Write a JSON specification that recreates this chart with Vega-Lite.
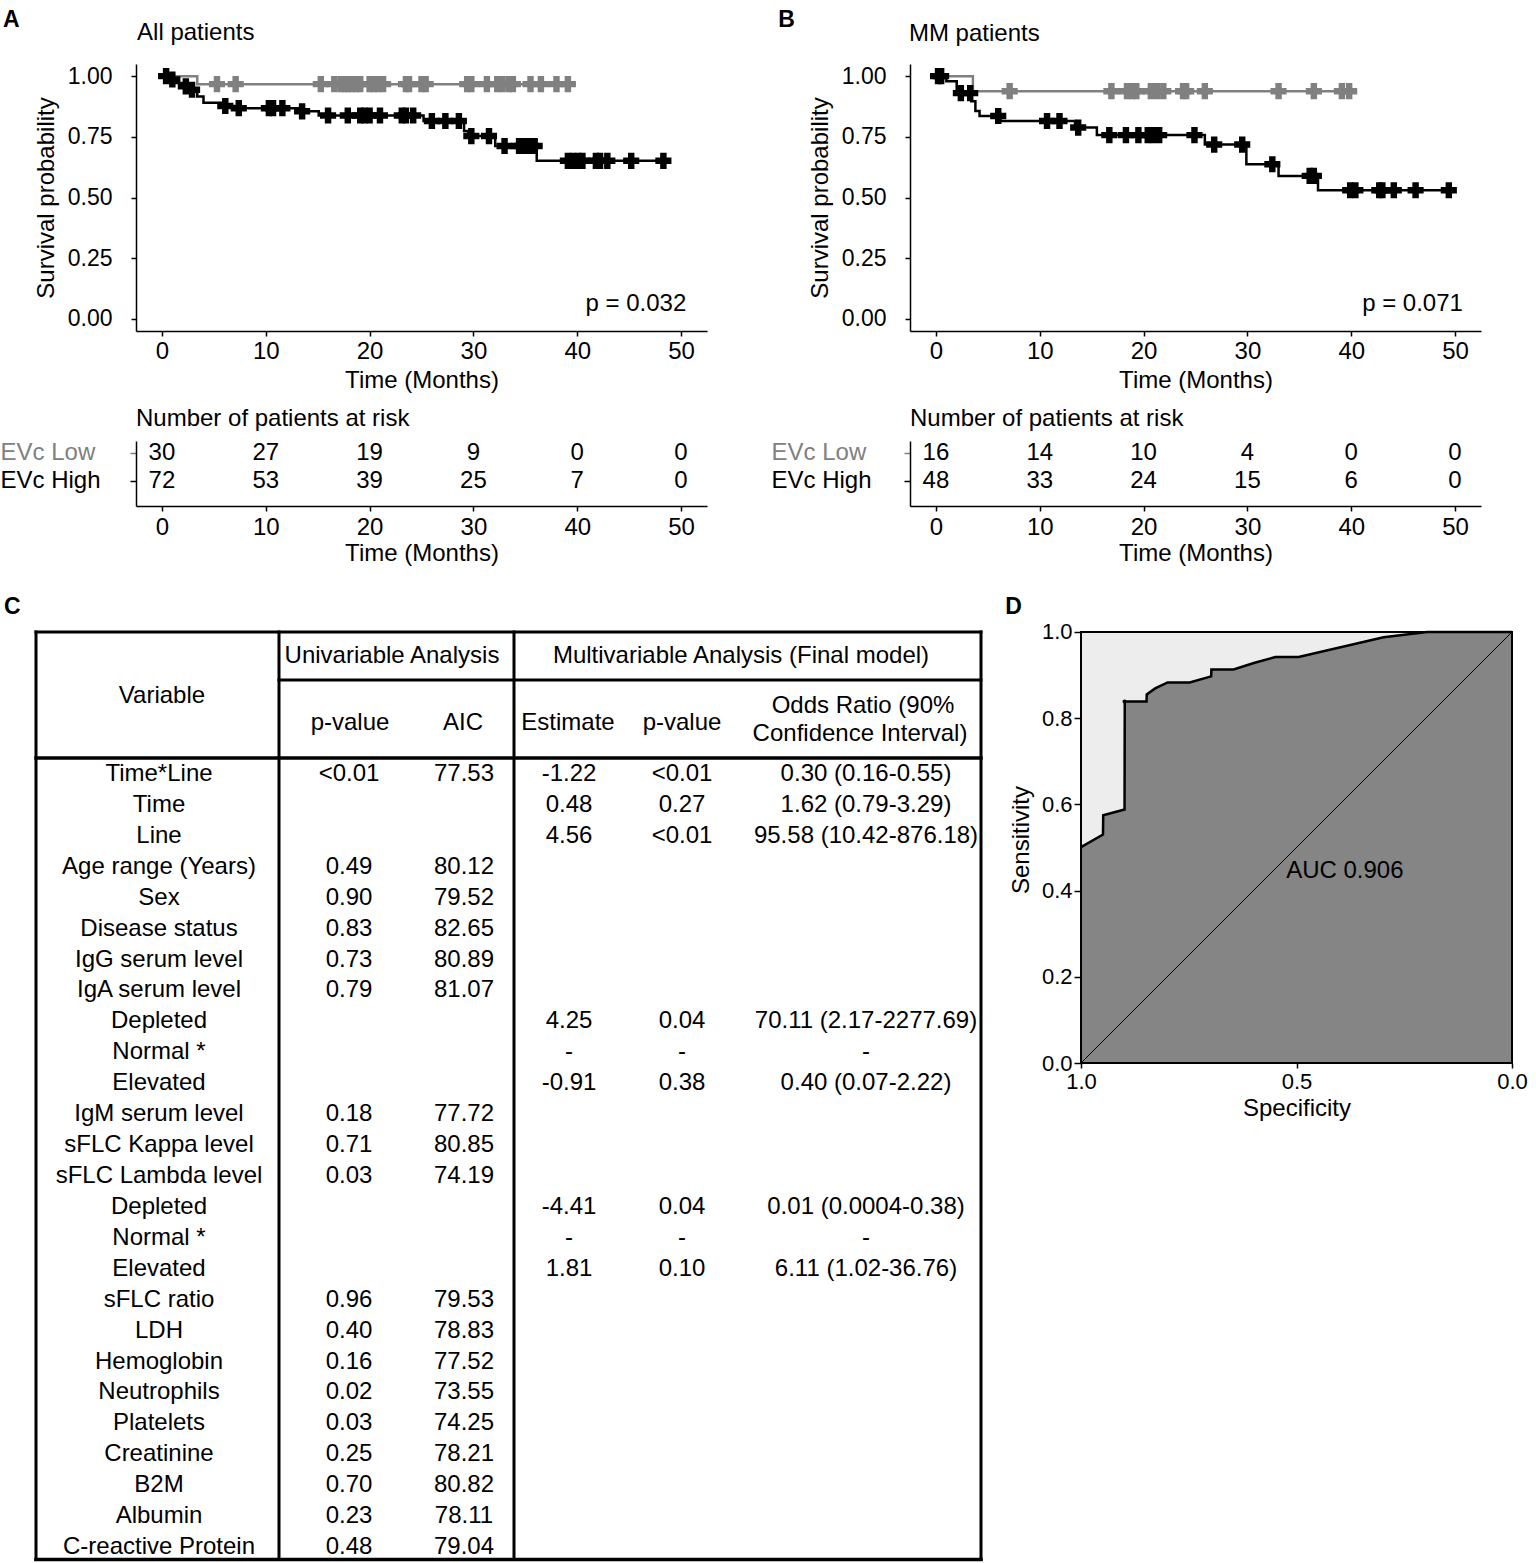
{
  "$schema": "https://vega.github.io/schema/vega-lite/v6.json",
  "padding": {"left": 0, "top": 8, "right": 0, "bottom": 0},
  "config": {
    "font": "Liberation Sans",
    "view": {"stroke": null},
    "axis": {"grid": false, "labelFontSize": 22, "titleFontSize": 24, "titleFontWeight": "normal", "labelColor": "#000000", "titleColor": "#000000", "domainColor": "#000000", "tickColor": "#000000", "domainWidth": 1.5, "tickWidth": 1.5, "labelFlush": false},
    "text": {"fontSize": 24, "color": "#000000"}
  },
  "datasets": {
    "kmA_curve": [
      {"group": "EVc Low", "time": 0, "surv": 1},
      {"group": "EVc Low", "time": 3.4, "surv": 0.967},
      {"group": "EVc Low", "time": 39.3, "surv": 0.967},
      {"group": "EVc High", "time": 0, "surv": 1},
      {"group": "EVc High", "time": 0.5, "surv": 0.986},
      {"group": "EVc High", "time": 1.2, "surv": 0.972},
      {"group": "EVc High", "time": 2.1, "surv": 0.958},
      {"group": "EVc High", "time": 2.9, "surv": 0.944},
      {"group": "EVc High", "time": 3.4, "surv": 0.916},
      {"group": "EVc High", "time": 4.0, "surv": 0.89},
      {"group": "EVc High", "time": 6.0, "surv": 0.877},
      {"group": "EVc High", "time": 7.3, "surv": 0.868},
      {"group": "EVc High", "time": 13.2, "surv": 0.855},
      {"group": "EVc High", "time": 15.1, "surv": 0.838},
      {"group": "EVc High", "time": 25.2, "surv": 0.815},
      {"group": "EVc High", "time": 29.1, "surv": 0.774},
      {"group": "EVc High", "time": 29.5, "surv": 0.753},
      {"group": "EVc High", "time": 32.1, "surv": 0.712},
      {"group": "EVc High", "time": 36.1, "surv": 0.651},
      {"group": "EVc High", "time": 48.3, "surv": 0.651}
    ],
    "kmA_censor": [
      {"group": "EVc Low", "time": 5.3, "surv": 0.967},
      {"group": "EVc Low", "time": 7.1, "surv": 0.967},
      {"group": "EVc Low", "time": 15.3, "surv": 0.967},
      {"group": "EVc Low", "time": 16.6, "surv": 0.967},
      {"group": "EVc Low", "time": 17.2, "surv": 0.967},
      {"group": "EVc Low", "time": 17.6, "surv": 0.967},
      {"group": "EVc Low", "time": 17.9, "surv": 0.967},
      {"group": "EVc Low", "time": 18.3, "surv": 0.967},
      {"group": "EVc Low", "time": 18.7, "surv": 0.967},
      {"group": "EVc Low", "time": 19.1, "surv": 0.967},
      {"group": "EVc Low", "time": 20.0, "surv": 0.967},
      {"group": "EVc Low", "time": 20.4, "surv": 0.967},
      {"group": "EVc Low", "time": 20.8, "surv": 0.967},
      {"group": "EVc Low", "time": 21.3, "surv": 0.967},
      {"group": "EVc Low", "time": 23.5, "surv": 0.967},
      {"group": "EVc Low", "time": 23.8, "surv": 0.967},
      {"group": "EVc Low", "time": 25.0, "surv": 0.967},
      {"group": "EVc Low", "time": 25.4, "surv": 0.967},
      {"group": "EVc Low", "time": 29.4, "surv": 0.967},
      {"group": "EVc Low", "time": 29.8, "surv": 0.967},
      {"group": "EVc Low", "time": 31.3, "surv": 0.967},
      {"group": "EVc Low", "time": 32.3, "surv": 0.967},
      {"group": "EVc Low", "time": 32.8, "surv": 0.967},
      {"group": "EVc Low", "time": 33.4, "surv": 0.967},
      {"group": "EVc Low", "time": 33.8, "surv": 0.967},
      {"group": "EVc Low", "time": 35.5, "surv": 0.967},
      {"group": "EVc Low", "time": 36.5, "surv": 0.967},
      {"group": "EVc Low", "time": 38.0, "surv": 0.967},
      {"group": "EVc Low", "time": 39.1, "surv": 0.967},
      {"group": "EVc High", "time": 0.4, "surv": 1},
      {"group": "EVc High", "time": 1.0, "surv": 0.986},
      {"group": "EVc High", "time": 2.3, "surv": 0.958},
      {"group": "EVc High", "time": 2.9, "surv": 0.944},
      {"group": "EVc High", "time": 6.1, "surv": 0.877},
      {"group": "EVc High", "time": 7.4, "surv": 0.868},
      {"group": "EVc High", "time": 10.3, "surv": 0.868},
      {"group": "EVc High", "time": 10.7, "surv": 0.868},
      {"group": "EVc High", "time": 11.6, "surv": 0.868},
      {"group": "EVc High", "time": 13.5, "surv": 0.855},
      {"group": "EVc High", "time": 16.0, "surv": 0.838},
      {"group": "EVc High", "time": 17.9, "surv": 0.838},
      {"group": "EVc High", "time": 19.1, "surv": 0.838},
      {"group": "EVc High", "time": 19.5, "surv": 0.838},
      {"group": "EVc High", "time": 20.0, "surv": 0.838},
      {"group": "EVc High", "time": 21.0, "surv": 0.838},
      {"group": "EVc High", "time": 23.1, "surv": 0.838},
      {"group": "EVc High", "time": 23.5, "surv": 0.838},
      {"group": "EVc High", "time": 24.2, "surv": 0.838},
      {"group": "EVc High", "time": 26.0, "surv": 0.815},
      {"group": "EVc High", "time": 27.3, "surv": 0.815},
      {"group": "EVc High", "time": 28.6, "surv": 0.815},
      {"group": "EVc High", "time": 29.8, "surv": 0.753},
      {"group": "EVc High", "time": 31.5, "surv": 0.753},
      {"group": "EVc High", "time": 33.0, "surv": 0.712},
      {"group": "EVc High", "time": 34.4, "surv": 0.712},
      {"group": "EVc High", "time": 34.7, "surv": 0.712},
      {"group": "EVc High", "time": 35.1, "surv": 0.712},
      {"group": "EVc High", "time": 35.5, "surv": 0.712},
      {"group": "EVc High", "time": 35.9, "surv": 0.712},
      {"group": "EVc High", "time": 39.1, "surv": 0.651},
      {"group": "EVc High", "time": 39.6, "surv": 0.651},
      {"group": "EVc High", "time": 40.1, "surv": 0.651},
      {"group": "EVc High", "time": 40.5, "surv": 0.651},
      {"group": "EVc High", "time": 41.8, "surv": 0.651},
      {"group": "EVc High", "time": 42.2, "surv": 0.651},
      {"group": "EVc High", "time": 42.9, "surv": 0.651},
      {"group": "EVc High", "time": 45.2, "surv": 0.651},
      {"group": "EVc High", "time": 48.3, "surv": 0.651}
    ],
    "kmB_curve": [
      {"group": "EVc Low", "time": 0, "surv": 1},
      {"group": "EVc Low", "time": 3.56, "surv": 0.938},
      {"group": "EVc Low", "time": 39.8, "surv": 0.938},
      {"group": "EVc High", "time": 0, "surv": 1},
      {"group": "EVc High", "time": 1.0, "surv": 0.979},
      {"group": "EVc High", "time": 2.0, "surv": 0.93},
      {"group": "EVc High", "time": 3.4, "surv": 0.897},
      {"group": "EVc High", "time": 3.8, "surv": 0.856},
      {"group": "EVc High", "time": 4.2, "surv": 0.836},
      {"group": "EVc High", "time": 6.2, "surv": 0.815},
      {"group": "EVc High", "time": 13.4, "surv": 0.788},
      {"group": "EVc High", "time": 15.5, "surv": 0.757},
      {"group": "EVc High", "time": 25.9, "surv": 0.718},
      {"group": "EVc High", "time": 29.9, "surv": 0.637},
      {"group": "EVc High", "time": 33.0, "surv": 0.589},
      {"group": "EVc High", "time": 36.8, "surv": 0.53},
      {"group": "EVc High", "time": 49.4, "surv": 0.53}
    ],
    "kmB_censor": [
      {"group": "EVc Low", "time": 7.1, "surv": 0.938},
      {"group": "EVc Low", "time": 16.9, "surv": 0.938},
      {"group": "EVc Low", "time": 18.4, "surv": 0.938},
      {"group": "EVc Low", "time": 18.9, "surv": 0.938},
      {"group": "EVc Low", "time": 19.3, "surv": 0.938},
      {"group": "EVc Low", "time": 20.7, "surv": 0.938},
      {"group": "EVc Low", "time": 21.3, "surv": 0.938},
      {"group": "EVc Low", "time": 21.9, "surv": 0.938},
      {"group": "EVc Low", "time": 23.8, "surv": 0.938},
      {"group": "EVc Low", "time": 24.1, "surv": 0.938},
      {"group": "EVc Low", "time": 25.9, "surv": 0.938},
      {"group": "EVc Low", "time": 33.0, "surv": 0.938},
      {"group": "EVc Low", "time": 36.4, "surv": 0.938},
      {"group": "EVc Low", "time": 39.1, "surv": 0.938},
      {"group": "EVc Low", "time": 39.8, "surv": 0.938},
      {"group": "EVc High", "time": 0.2, "surv": 1},
      {"group": "EVc High", "time": 0.5, "surv": 1},
      {"group": "EVc High", "time": 2.4, "surv": 0.93},
      {"group": "EVc High", "time": 3.3, "surv": 0.93},
      {"group": "EVc High", "time": 6.0, "surv": 0.836},
      {"group": "EVc High", "time": 10.7, "surv": 0.815},
      {"group": "EVc High", "time": 11.9, "surv": 0.815},
      {"group": "EVc High", "time": 13.7, "surv": 0.788},
      {"group": "EVc High", "time": 16.7, "surv": 0.757},
      {"group": "EVc High", "time": 18.3, "surv": 0.757},
      {"group": "EVc High", "time": 19.5, "surv": 0.757},
      {"group": "EVc High", "time": 20.4, "surv": 0.757},
      {"group": "EVc High", "time": 20.9, "surv": 0.757},
      {"group": "EVc High", "time": 21.5, "surv": 0.757},
      {"group": "EVc High", "time": 24.9, "surv": 0.757},
      {"group": "EVc High", "time": 26.8, "surv": 0.718},
      {"group": "EVc High", "time": 29.5, "surv": 0.718},
      {"group": "EVc High", "time": 32.4, "surv": 0.637},
      {"group": "EVc High", "time": 36.0, "surv": 0.589},
      {"group": "EVc High", "time": 36.4, "surv": 0.589},
      {"group": "EVc High", "time": 39.9, "surv": 0.53},
      {"group": "EVc High", "time": 40.4, "surv": 0.53},
      {"group": "EVc High", "time": 42.7, "surv": 0.53},
      {"group": "EVc High", "time": 43.0, "surv": 0.53},
      {"group": "EVc High", "time": 44.1, "surv": 0.53},
      {"group": "EVc High", "time": 46.2, "surv": 0.53},
      {"group": "EVc High", "time": 49.4, "surv": 0.53}
    ],
    "riskA": [
      {"group": "EVc Low", "time": 0, "n": 30},
      {"group": "EVc Low", "time": 10, "n": 27},
      {"group": "EVc Low", "time": 20, "n": 19},
      {"group": "EVc Low", "time": 30, "n": 9},
      {"group": "EVc Low", "time": 40, "n": 0},
      {"group": "EVc Low", "time": 50, "n": 0},
      {"group": "EVc High", "time": 0, "n": 72},
      {"group": "EVc High", "time": 10, "n": 53},
      {"group": "EVc High", "time": 20, "n": 39},
      {"group": "EVc High", "time": 30, "n": 25},
      {"group": "EVc High", "time": 40, "n": 7},
      {"group": "EVc High", "time": 50, "n": 0}
    ],
    "riskB": [
      {"group": "EVc Low", "time": 0, "n": 16},
      {"group": "EVc Low", "time": 10, "n": 14},
      {"group": "EVc Low", "time": 20, "n": 10},
      {"group": "EVc Low", "time": 30, "n": 4},
      {"group": "EVc Low", "time": 40, "n": 0},
      {"group": "EVc Low", "time": 50, "n": 0},
      {"group": "EVc High", "time": 0, "n": 48},
      {"group": "EVc High", "time": 10, "n": 33},
      {"group": "EVc High", "time": 20, "n": 24},
      {"group": "EVc High", "time": 30, "n": 15},
      {"group": "EVc High", "time": 40, "n": 6},
      {"group": "EVc High", "time": 50, "n": 0}
    ],
    "tableC": [
      {"row": 1, "variable": "Time*Line", "uniP": "<0.01", "aic": "77.53", "est": "-1.22", "multP": "<0.01", "or": "0.30 (0.16-0.55)"},
      {"row": 2, "variable": "Time", "uniP": "", "aic": "", "est": "0.48", "multP": "0.27", "or": "1.62 (0.79-3.29)"},
      {"row": 3, "variable": "Line", "uniP": "", "aic": "", "est": "4.56", "multP": "<0.01", "or": "95.58 (10.42-876.18)"},
      {"row": 4, "variable": "Age range (Years)", "uniP": "0.49", "aic": "80.12", "est": "", "multP": "", "or": ""},
      {"row": 5, "variable": "Sex", "uniP": "0.90", "aic": "79.52", "est": "", "multP": "", "or": ""},
      {"row": 6, "variable": "Disease status", "uniP": "0.83", "aic": "82.65", "est": "", "multP": "", "or": ""},
      {"row": 7, "variable": "IgG serum level", "uniP": "0.73", "aic": "80.89", "est": "", "multP": "", "or": ""},
      {"row": 8, "variable": "IgA serum level", "uniP": "0.79", "aic": "81.07", "est": "", "multP": "", "or": ""},
      {"row": 9, "variable": "Depleted", "uniP": "", "aic": "", "est": "4.25", "multP": "0.04", "or": "70.11 (2.17-2277.69)"},
      {"row": 10, "variable": "Normal *", "uniP": "", "aic": "", "est": "-", "multP": "-", "or": "-"},
      {"row": 11, "variable": "Elevated", "uniP": "", "aic": "", "est": "-0.91", "multP": "0.38", "or": "0.40 (0.07-2.22)"},
      {"row": 12, "variable": "IgM serum level", "uniP": "0.18", "aic": "77.72", "est": "", "multP": "", "or": ""},
      {"row": 13, "variable": "sFLC Kappa level", "uniP": "0.71", "aic": "80.85", "est": "", "multP": "", "or": ""},
      {"row": 14, "variable": "sFLC Lambda level", "uniP": "0.03", "aic": "74.19", "est": "", "multP": "", "or": ""},
      {"row": 15, "variable": "Depleted", "uniP": "", "aic": "", "est": "-4.41", "multP": "0.04", "or": "0.01 (0.0004-0.38)"},
      {"row": 16, "variable": "Normal *", "uniP": "", "aic": "", "est": "-", "multP": "-", "or": "-"},
      {"row": 17, "variable": "Elevated", "uniP": "", "aic": "", "est": "1.81", "multP": "0.10", "or": "6.11 (1.02-36.76)"},
      {"row": 18, "variable": "sFLC ratio", "uniP": "0.96", "aic": "79.53", "est": "", "multP": "", "or": ""},
      {"row": 19, "variable": "LDH", "uniP": "0.40", "aic": "78.83", "est": "", "multP": "", "or": ""},
      {"row": 20, "variable": "Hemoglobin", "uniP": "0.16", "aic": "77.52", "est": "", "multP": "", "or": ""},
      {"row": 21, "variable": "Neutrophils", "uniP": "0.02", "aic": "73.55", "est": "", "multP": "", "or": ""},
      {"row": 22, "variable": "Platelets", "uniP": "0.03", "aic": "74.25", "est": "", "multP": "", "or": ""},
      {"row": 23, "variable": "Creatinine", "uniP": "0.25", "aic": "78.21", "est": "", "multP": "", "or": ""},
      {"row": 24, "variable": "B2M", "uniP": "0.70", "aic": "80.82", "est": "", "multP": "", "or": ""},
      {"row": 25, "variable": "Albumin", "uniP": "0.23", "aic": "78.11", "est": "", "multP": "", "or": ""},
      {"row": 26, "variable": "C-reactive Protein", "uniP": "0.48", "aic": "79.04", "est": "", "multP": "", "or": ""}
    ],
    "roc": [
      {"spec": 0.0, "sens": 1.0},
      {"spec": 0.197, "sens": 1.0},
      {"spec": 0.298, "sens": 0.988},
      {"spec": 0.495, "sens": 0.942},
      {"spec": 0.549, "sens": 0.942},
      {"spec": 0.599, "sens": 0.928},
      {"spec": 0.646, "sens": 0.913},
      {"spec": 0.6975, "sens": 0.913},
      {"spec": 0.698, "sens": 0.897},
      {"spec": 0.748, "sens": 0.883},
      {"spec": 0.799, "sens": 0.883},
      {"spec": 0.828, "sens": 0.869},
      {"spec": 0.8475, "sens": 0.855},
      {"spec": 0.848, "sens": 0.839},
      {"spec": 0.8985, "sens": 0.839},
      {"spec": 0.899, "sens": 0.588},
      {"spec": 0.9485, "sens": 0.575},
      {"spec": 0.949, "sens": 0.53},
      {"spec": 1.0, "sens": 0.501}
    ]
  },
  "columns": 2,
  "spacing": {"row": 110, "column": 203},
  "align": "none",
  "bounds": "flush",
  "concat": [
    {
      "width": 571, "height": 267,
      "layer": [
        {
          "data": {"name": "kmA_curve"},
          "mark": {"type": "line", "interpolate": "step-after", "strokeWidth": 2.5},
          "encoding": {
            "x": {"field": "time", "type": "quantitative", "scale": {"domain": [-2.5, 52.5], "nice": false, "zero": false},
                  "axis": {"values": [0, 10, 20, 30, 40, 50], "title": "Time (Months)", "tickSize": 5, "labelPadding": 3, "titlePadding": 5, "labelFontSize": 24}},
            "y": {"field": "surv", "type": "quantitative", "scale": {"domain": [-0.05, 1.05], "nice": false, "zero": false},
                  "axis": {"values": [0, 0.25, 0.5, 0.75, 1], "format": ".2f", "title": "Survival probability", "tickSize": 5, "labelPadding": 19, "titlePadding": 9, "labelFontSize": 23}},
            "color": {"field": "group", "type": "nominal", "scale": {"domain": ["EVc Low", "EVc High"], "range": ["#808080", "#000000"]}, "legend": null}
          }
        },
        {
          "data": {"name": "kmA_censor"},
          "mark": {"type": "point", "shape": "cross", "filled": true, "size": 260, "opacity": 1},
          "encoding": {
            "x": {"field": "time", "type": "quantitative"},
            "y": {"field": "surv", "type": "quantitative"},
            "color": {"field": "group", "type": "nominal", "legend": null}
          }
        },
        {
          "data": {"values": [{}]},
          "mark": {"type": "text", "align": "left", "baseline": "middle", "fontSize": 24},
          "encoding": {"x": {"datum": 40.8}, "y": {"datum": 0.063}, "text": {"value": "p = 0.032"}}
        },
        {
          "data": {"values": [{}]},
          "mark": {"type": "text", "align": "left", "baseline": "middle", "fontSize": 24},
          "encoding": {"x": {"datum": -2.4}, "y": {"datum": 1.178}, "text": {"value": "All patients"}}
        },
        {
          "data": {"values": [{}]},
          "mark": {"type": "text", "align": "left", "baseline": "middle", "fontSize": 23, "fontWeight": "bold"},
          "encoding": {"x": {"datum": -15.3}, "y": {"datum": 1.232}, "text": {"value": "A"}}
        }
      ]
    },
    {
      "width": 571, "height": 267,
      "layer": [
        {
          "data": {"name": "kmB_curve"},
          "mark": {"type": "line", "interpolate": "step-after", "strokeWidth": 2.5},
          "encoding": {
            "x": {"field": "time", "type": "quantitative", "scale": {"domain": [-2.5, 52.5], "nice": false, "zero": false},
                  "axis": {"values": [0, 10, 20, 30, 40, 50], "title": "Time (Months)", "tickSize": 5, "labelPadding": 3, "titlePadding": 5, "labelFontSize": 24}},
            "y": {"field": "surv", "type": "quantitative", "scale": {"domain": [-0.05, 1.05], "nice": false, "zero": false},
                  "axis": {"values": [0, 0.25, 0.5, 0.75, 1], "format": ".2f", "title": "Survival probability", "tickSize": 5, "labelPadding": 19, "titlePadding": 9, "labelFontSize": 23}},
            "color": {"field": "group", "type": "nominal", "scale": {"domain": ["EVc Low", "EVc High"], "range": ["#808080", "#000000"]}, "legend": null}
          }
        },
        {
          "data": {"name": "kmB_censor"},
          "mark": {"type": "point", "shape": "cross", "filled": true, "size": 260, "opacity": 1},
          "encoding": {
            "x": {"field": "time", "type": "quantitative"},
            "y": {"field": "surv", "type": "quantitative"},
            "color": {"field": "group", "type": "nominal", "legend": null}
          }
        },
        {
          "data": {"values": [{}]},
          "mark": {"type": "text", "align": "left", "baseline": "middle", "fontSize": 24},
          "encoding": {"x": {"datum": 41.05}, "y": {"datum": 0.063}, "text": {"value": "p = 0.071"}}
        },
        {
          "data": {"values": [{}]},
          "mark": {"type": "text", "align": "left", "baseline": "middle", "fontSize": 24},
          "encoding": {"x": {"datum": -2.6}, "y": {"datum": 1.174}, "text": {"value": "MM patients"}}
        },
        {
          "data": {"values": [{}]},
          "mark": {"type": "text", "align": "left", "baseline": "middle", "fontSize": 23, "fontWeight": "bold"},
          "encoding": {"x": {"datum": -15.2}, "y": {"datum": 1.232}, "text": {"value": "B"}}
        }
      ]
    },
    {
      "width": 571, "height": 65,
      "title": {"text": "Number of patients at risk", "anchor": "start", "frame": "group", "offset": 10, "fontSize": 24, "fontWeight": "normal", "color": "#000000"},
      "data": {"name": "riskA"},
      "mark": {"type": "text", "fontSize": 24, "baseline": "middle"},
      "encoding": {
        "x": {"field": "time", "type": "quantitative", "scale": {"domain": [-2.5, 52.5], "nice": false, "zero": false},
              "axis": {"values": [0, 10, 20, 30, 40, 50], "title": "Time (Months)", "tickSize": 5, "labelPadding": 4, "titlePadding": 2, "labelFontSize": 24}},
        "y": {"field": "group", "type": "nominal", "scale": {"type": "point", "domain": ["EVc Low", "EVc High"], "padding": 0.6607, "align": 0.324},
              "axis": {"title": null, "labelAlign": "left", "labelPadding": 130, "tickSize": 6, "labelFontSize": 24,
                       "labelColor": {"condition": {"test": "datum.value === 'EVc Low'", "value": "#808080"}, "value": "#000000"},
                       "tickColor": {"condition": {"test": "datum.value === 'EVc Low'", "value": "#808080"}, "value": "#000000"}}},
        "text": {"field": "n", "type": "quantitative"}
      }
    },
    {
      "width": 571, "height": 65,
      "title": {"text": "Number of patients at risk", "anchor": "start", "frame": "group", "offset": 10, "fontSize": 24, "fontWeight": "normal", "color": "#000000"},
      "data": {"name": "riskB"},
      "mark": {"type": "text", "fontSize": 24, "baseline": "middle"},
      "encoding": {
        "x": {"field": "time", "type": "quantitative", "scale": {"domain": [-2.5, 52.5], "nice": false, "zero": false},
              "axis": {"values": [0, 10, 20, 30, 40, 50], "title": "Time (Months)", "tickSize": 5, "labelPadding": 4, "titlePadding": 2, "labelFontSize": 24}},
        "y": {"field": "group", "type": "nominal", "scale": {"type": "point", "domain": ["EVc Low", "EVc High"], "padding": 0.6607, "align": 0.324},
              "axis": {"title": null, "labelAlign": "left", "labelPadding": 133, "tickSize": 6, "labelFontSize": 24,
                       "labelColor": {"condition": {"test": "datum.value === 'EVc Low'", "value": "#808080"}, "value": "#000000"},
                       "tickColor": {"condition": {"test": "datum.value === 'EVc Low'", "value": "#808080"}, "value": "#000000"}}},
        "text": {"field": "n", "type": "quantitative"}
      }
    },
    {
      "width": 571, "height": 945,
      "layer": [
        {
          "data": {"values": [{}]},
          "mark": {"type": "rule", "strokeWidth": 3, "strokeCap": "square", "color": "#000000"},
          "encoding": {
            "x": {"datum": -100, "scale": {"domain": [0, 571], "nice": false, "zero": false}, "axis": null},
            "x2": {"datum": 845},
            "y": {"datum": -3.59, "scale": {"domain": [-4.11, 26.45], "reverse": true, "nice": false, "zero": false}, "axis": null}
          }
        },
        {
          "data": {"values": [{}]},
          "mark": {"type": "rule", "strokeWidth": 3, "strokeCap": "square", "color": "#000000"},
          "encoding": {"x": {"datum": 143, "axis": null}, "x2": {"datum": 845}, "y": {"datum": -2.04, "axis": null}}
        },
        {
          "data": {"values": [{}]},
          "mark": {"type": "rule", "strokeWidth": 3.5, "strokeCap": "square", "color": "#000000"},
          "encoding": {"x": {"datum": -100, "axis": null}, "x2": {"datum": 845}, "y": {"datum": 0.48, "axis": null}}
        },
        {
          "data": {"values": [{}]},
          "mark": {"type": "rule", "strokeWidth": 3.5, "strokeCap": "square", "color": "#000000"},
          "encoding": {"x": {"datum": -100, "axis": null}, "x2": {"datum": 845}, "y": {"datum": 26.4, "axis": null}}
        },
        {
          "data": {"values": [{}]},
          "mark": {"type": "rule", "strokeWidth": 3, "strokeCap": "square", "color": "#000000"},
          "encoding": {"x": {"datum": -100, "axis": null}, "y": {"datum": -3.59, "axis": null}, "y2": {"datum": 26.4}}
        },
        {
          "data": {"values": [{}]},
          "mark": {"type": "rule", "strokeWidth": 3, "strokeCap": "square", "color": "#000000"},
          "encoding": {"x": {"datum": 143, "axis": null}, "y": {"datum": -3.59, "axis": null}, "y2": {"datum": 26.4}}
        },
        {
          "data": {"values": [{}]},
          "mark": {"type": "rule", "strokeWidth": 3, "strokeCap": "square", "color": "#000000"},
          "encoding": {"x": {"datum": 378, "axis": null}, "y": {"datum": -3.59, "axis": null}, "y2": {"datum": 26.4}}
        },
        {
          "data": {"values": [{}]},
          "mark": {"type": "rule", "strokeWidth": 3, "strokeCap": "square", "color": "#000000"},
          "encoding": {"x": {"datum": 845, "axis": null}, "y": {"datum": -3.59, "axis": null}, "y2": {"datum": 26.4}}
        },
        {
          "data": {"name": "tableC"},
          "mark": {"type": "text", "fontSize": 24, "align": "center", "baseline": "middle"},
          "encoding": {"x": {"datum": 23, "axis": null}, "y": {"field": "row", "type": "quantitative", "axis": null}, "text": {"field": "variable"}}
        },
        {
          "data": {"name": "tableC"},
          "mark": {"type": "text", "fontSize": 24, "align": "center", "baseline": "middle"},
          "encoding": {"x": {"datum": 213, "axis": null}, "y": {"field": "row", "type": "quantitative", "axis": null}, "text": {"field": "uniP"}}
        },
        {
          "data": {"name": "tableC"},
          "mark": {"type": "text", "fontSize": 24, "align": "center", "baseline": "middle"},
          "encoding": {"x": {"datum": 328, "axis": null}, "y": {"field": "row", "type": "quantitative", "axis": null}, "text": {"field": "aic"}}
        },
        {
          "data": {"name": "tableC"},
          "mark": {"type": "text", "fontSize": 24, "align": "center", "baseline": "middle"},
          "encoding": {"x": {"datum": 433, "axis": null}, "y": {"field": "row", "type": "quantitative", "axis": null}, "text": {"field": "est"}}
        },
        {
          "data": {"name": "tableC"},
          "mark": {"type": "text", "fontSize": 24, "align": "center", "baseline": "middle"},
          "encoding": {"x": {"datum": 546, "axis": null}, "y": {"field": "row", "type": "quantitative", "axis": null}, "text": {"field": "multP"}}
        },
        {
          "data": {"name": "tableC"},
          "mark": {"type": "text", "fontSize": 24, "align": "center", "baseline": "middle"},
          "encoding": {"x": {"datum": 730, "axis": null}, "y": {"field": "row", "type": "quantitative", "axis": null}, "text": {"field": "or"}}
        },
        {
          "data": {"values": [{}]},
          "mark": {"type": "text", "fontSize": 24, "align": "center", "baseline": "middle"},
          "encoding": {"x": {"datum": 256, "axis": null}, "y": {"datum": -2.82, "axis": null}, "text": {"value": "Univariable Analysis"}}
        },
        {
          "data": {"values": [{}]},
          "mark": {"type": "text", "fontSize": 24, "align": "center", "baseline": "middle"},
          "encoding": {"x": {"datum": 605, "axis": null}, "y": {"datum": -2.82, "axis": null}, "text": {"value": "Multivariable Analysis (Final model)"}}
        },
        {
          "data": {"values": [{}]},
          "mark": {"type": "text", "fontSize": 24, "align": "center", "baseline": "middle"},
          "encoding": {"x": {"datum": 26, "axis": null}, "y": {"datum": -1.52, "axis": null}, "text": {"value": "Variable"}}
        },
        {
          "data": {"values": [{}]},
          "mark": {"type": "text", "fontSize": 24, "align": "center", "baseline": "middle"},
          "encoding": {"x": {"datum": 214, "axis": null}, "y": {"datum": -0.65, "axis": null}, "text": {"value": "p-value"}}
        },
        {
          "data": {"values": [{}]},
          "mark": {"type": "text", "fontSize": 24, "align": "center", "baseline": "middle"},
          "encoding": {"x": {"datum": 327, "axis": null}, "y": {"datum": -0.65, "axis": null}, "text": {"value": "AIC"}}
        },
        {
          "data": {"values": [{}]},
          "mark": {"type": "text", "fontSize": 24, "align": "center", "baseline": "middle"},
          "encoding": {"x": {"datum": 432, "axis": null}, "y": {"datum": -0.65, "axis": null}, "text": {"value": "Estimate"}}
        },
        {
          "data": {"values": [{}]},
          "mark": {"type": "text", "fontSize": 24, "align": "center", "baseline": "middle"},
          "encoding": {"x": {"datum": 546, "axis": null}, "y": {"datum": -0.65, "axis": null}, "text": {"value": "p-value"}}
        },
        {
          "data": {"values": [{}]},
          "mark": {"type": "text", "fontSize": 24, "align": "center", "baseline": "middle"},
          "encoding": {"x": {"datum": 727, "axis": null}, "y": {"datum": -1.2, "axis": null}, "text": {"value": "Odds Ratio (90%"}}
        },
        {
          "data": {"values": [{}]},
          "mark": {"type": "text", "fontSize": 24, "align": "center", "baseline": "middle"},
          "encoding": {"x": {"datum": 724, "axis": null}, "y": {"datum": -0.29, "axis": null}, "text": {"value": "Confidence Interval)"}}
        },
        {
          "data": {"values": [{}]},
          "mark": {"type": "text", "fontSize": 23, "fontWeight": "bold", "align": "left", "baseline": "middle"},
          "encoding": {"x": {"datum": -132, "axis": null}, "y": {"datum": -4.39, "axis": null}, "text": {"value": "C"}}
        }
      ]
    },
    {
      "width": 602, "height": 447,
      "layer": [
        {
          "data": {"values": [{}]},
          "mark": {"type": "rect", "color": "#ededed"},
          "encoding": {
            "x": {"datum": 1, "type": "quantitative", "scale": {"domain": [0, 1.3968], "reverse": true, "nice": false, "zero": false},
                  "axis": {"values": [1, 0.5, 0], "format": ".1f", "title": "Specificity", "domain": false, "tickSize": 5, "labelPadding": 3, "titlePadding": 4, "titleX": 386.5}},
            "x2": {"datum": 0},
            "y": {"datum": 0, "type": "quantitative", "scale": {"domain": [0, 1.0371], "nice": false, "zero": false},
                  "axis": {"values": [0, 0.2, 0.4, 0.6, 0.8, 1], "format": ".1f", "title": "Sensitivity", "domain": false, "tickSize": 7, "labelPadding": 2, "titlePadding": 8, "offset": -171}},
            "y2": {"datum": 1}
          }
        },
        {
          "data": {"name": "roc"},
          "mark": {"type": "area", "color": "#858585", "interpolate": "linear"},
          "encoding": {
            "x": {"field": "spec", "type": "quantitative"},
            "y": {"field": "sens", "type": "quantitative"},
            "y2": {"datum": 0}
          }
        },
        {
          "data": {"values": [{}]},
          "mark": {"type": "rule", "color": "#000000", "strokeWidth": 1},
          "encoding": {"x": {"datum": 1}, "y": {"datum": 0}, "x2": {"datum": 0}, "y2": {"datum": 1}}
        },
        {
          "data": {"name": "roc"},
          "mark": {"type": "line", "color": "#000000", "strokeWidth": 2.5, "interpolate": "linear"},
          "encoding": {
            "x": {"field": "spec", "type": "quantitative"},
            "y": {"field": "sens", "type": "quantitative"}
          }
        },
        {
          "data": {"values": [{}]},
          "mark": {"type": "point", "filled": true, "color": "#000000", "size": 16, "opacity": 1},
          "encoding": {"x": {"datum": 0.899}, "y": {"datum": 0.839}}
        },
        {
          "data": {"values": [{}]},
          "mark": {"type": "text", "fontSize": 24, "align": "left", "baseline": "middle"},
          "encoding": {"x": {"datum": 0.524}, "y": {"datum": 0.446}, "text": {"value": "AUC 0.906"}}
        },
        {
          "data": {"values": [{}]},
          "mark": {"type": "text", "fontSize": 23, "fontWeight": "bold", "align": "left", "baseline": "middle"},
          "encoding": {"x": {"datum": 1.176}, "y": {"datum": 1.057}, "text": {"value": "D"}}
        },
        {
          "data": {"values": [{}]},
          "mark": {"type": "rect", "filled": false, "stroke": "#000000", "strokeWidth": 2},
          "encoding": {"x": {"datum": 1}, "x2": {"datum": 0}, "y": {"datum": 0}, "y2": {"datum": 1}}
        }
      ]
    }
  ]
}
